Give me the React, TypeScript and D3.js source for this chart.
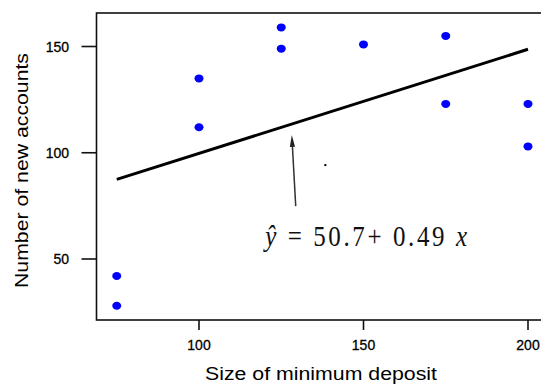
import React from 'react';
import * as d3 from 'd3';

// minimum deposit vs new accounts
const deposits = [75, 75, 100, 100, 125, 125, 150, 175, 175, 200, 200];
const accounts = [42, 28, 135, 112, 159, 149, 151, 155, 123, 123, 103];
const xTicks = [100, 150, 200];
const yTicks = [50, 100, 150];
const intercept = 50.7;
const slope = 0.49;
// annotation anchors in data units
const arrowTip = [128.2, 108.4];
const arrowBase = [129.4, 74.9];
const eqAnchor = [120.1, 56.1];
const strayDot = [138.4, 94.2];

const W = 541, H = 386;
const left = 96.5, top = 13, bottom = 320, right = 560;

export default function App() {
  const x = d3.scaleLinear().domain([100, 200]).range([199, 528]);
  const y = d3.scaleLinear().domain([50, 150]).range([259, 46.5]);

  const line = d3.line<number>()
    .x(d => x(d))
    .y(d => y(intercept + slope * d));
  const lineX = [d3.min(deposits)!, d3.max(deposits)!];

  const tx = x(arrowTip[0]), ty = y(arrowTip[1]);
  const bx = x(arrowBase[0]), by = y(arrowBase[1]);
  const ang = Math.atan2(ty - by, tx - bx);
  const hl = 12, hw = 2.6;
  const ux = Math.cos(ang), uy = Math.sin(ang);
  const head = [
    [tx, ty],
    [tx - ux * hl - uy * hw, ty - uy * hl + ux * hw],
    [tx - ux * hl + uy * hw, ty - uy * hl - ux * hw],
  ].map(p => p.join(',')).join(' ');

  const font = 'Arial, "Liberation Sans", sans-serif';

  return (
    <svg width={W} height={H} style={{ position: 'absolute', left: 0, top: 0, background: '#fff' }}>
      <rect x={0} y={0} width={W} height={H} fill="#fff" />
      {/* frame */}
      <rect x={left} y={top} width={right - left} height={bottom - top}
        fill="none" stroke="#111" strokeWidth={1.6} />

      {/* y axis */}
      {yTicks.map(t => (
        <g key={t}>
          <line x1={left - 15} x2={left} y1={y(t)} y2={y(t)} stroke="#111" strokeWidth={1.6} />
          <text x={69} y={y(t)} dy="0.36em" textAnchor="end" fontFamily={font}
            fontSize={14} fill="#000" stroke="#000" strokeWidth={0.3}>{t}</text>
        </g>
      ))}
      {/* x axis */}
      {xTicks.map(t => (
        <g key={t}>
          <line x1={x(t)} x2={x(t)} y1={bottom} y2={bottom + 10} stroke="#111" strokeWidth={1.6} />
          <text x={x(t)} y={350} textAnchor="middle" fontFamily={font}
            fontSize={14} fill="#000" stroke="#000" strokeWidth={0.3}>{t}</text>
        </g>
      ))}

      {/* axis titles */}
      <text x={205} y={380} fontFamily={font} fontSize={17.5} fill="#000"
        textLength={232} lengthAdjust="spacingAndGlyphs">Size of minimum deposit</text>
      <text transform="translate(28,288) rotate(-90)" fontFamily={font} fontSize={17.5} fill="#000"
        textLength={235} lengthAdjust="spacingAndGlyphs">Number of new accounts</text>

      {/* regression line */}
      <path d={line(lineX) || ''} fill="none" stroke="#000" strokeWidth={3} />

      {/* points */}
      {deposits.map((d, i) => (
        <ellipse key={i} cx={x(d)} cy={y(accounts[i])} rx={4.5} ry={4} fill="#0000ff" />
      ))}

      {/* arrow annotation */}
      <line x1={bx} y1={by} x2={tx - ux * 8} y2={ty - uy * 8} stroke="#333" strokeWidth={1.5} />
      <polygon points={head} fill="#222" />
      <rect x={x(strayDot[0]) - 1} y={y(strayDot[1]) - 1} width={2} height={2} fill="#000" />

      {/* equation */}
      <text transform={`translate(${x(eqAnchor[0])},${y(eqAnchor[1])}) scale(1,1.2)`}
        fontFamily='"Times New Roman", "Liberation Serif", serif' fontSize={25} fill="#111"
        textLength={202} lengthAdjust="spacing">
        <tspan fontStyle="italic">ŷ</tspan> = 50.7+ 0.49 <tspan fontStyle="italic">x</tspan>
      </text>
    </svg>
  );
}
